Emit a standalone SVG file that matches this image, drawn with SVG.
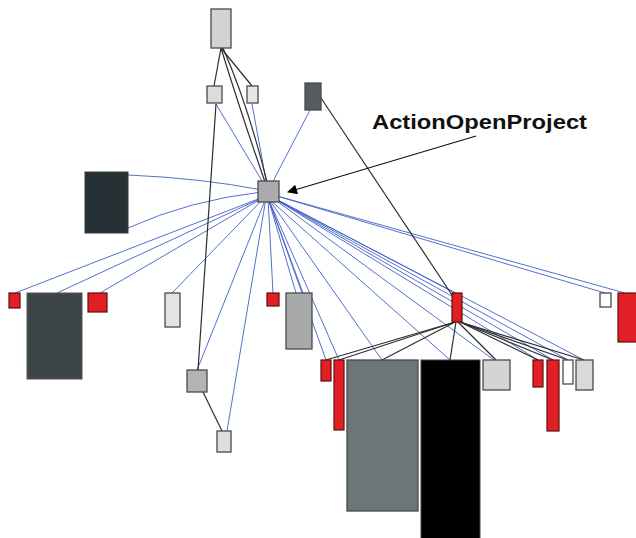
<svg xmlns="http://www.w3.org/2000/svg" width="636" height="538" viewBox="0 0 636 538">
<style>
.n{stroke:#4a4a4a;stroke-width:1.3}
.r{fill:#e41e25;stroke:#5a1010;stroke-width:1.2}
.b{fill:none;stroke:#3f62c8;stroke-width:1;stroke-opacity:0.9}
.k{fill:none;stroke:#2e2e2e;stroke-width:1.2}
.lbl{font-family:"Liberation Sans",Arial,sans-serif;font-weight:bold;font-size:20px;fill:#111}
</style>
<defs>
<marker id="ah" viewBox="0 0 10 10" refX="9" refY="5" markerWidth="14" markerHeight="10" markerUnits="userSpaceOnUse" orient="auto">
<path d="M0,0 L10,5 L0,10 Z" fill="#000"/>
</marker>
</defs>
<rect width="636" height="538" fill="#fff"/>
<g id="connectors">
<path class="b" d="M268,191 L216,104"/>
<path class="b" d="M268,191 L252,104"/>
<path class="b" d="M268,191 L310,110"/>
<path class="b" d="M262,190 Q200,178 128,175"/>
<path class="b" d="M262,192 Q190,200 128,228"/>
<path class="b" d="M266,196 L15,293"/>
<path class="b" d="M266,196 L57,293"/>
<path class="b" d="M266,196 L100,293"/>
<path class="b" d="M266,196 L172,293"/>
<path class="b" d="M266,198 L197,370"/>
<path class="b" d="M266,198 L227,431"/>
<path class="b" d="M268,198 L273,293"/>
<path class="b" d="M268,198 L296,293"/>
<path class="b" d="M268,198 L303,293"/>
<path class="b" d="M270,196 L455,293"/>
<path class="b" d="M270,194 L605,293"/>
<path class="b" d="M270,194 L625,293"/>
<path class="b" d="M268,198 L326,360"/>
<path class="b" d="M268,198 L339,360"/>
<path class="b" d="M268,198 L382,360"/>
<path class="b" d="M268,198 L450,360"/>
<path class="b" d="M270,196 L494,360"/>
<path class="b" d="M270,196 L538,360"/>
<path class="b" d="M270,196 L553,360"/>
<path class="b" d="M270,196 L568,360"/>
<path class="b" d="M270,196 L584,360"/>
<path class="k" d="M221,48 L214,86"/>
<path class="k" d="M221,48 L252,86"/>
<path class="k" d="M221,48 Q240,110 265,182"/>
<path class="k" d="M223,48 Q248,105 267,182"/>
<path class="k" d="M216,104 L198,370"/>
<path class="k" d="M321,98 L452,295"/>
<path class="k" d="M203,392 L222,431"/>
<path class="k" d="M455,322 L326,360"/>
<path class="k" d="M455,322 L339,360"/>
<path class="k" d="M455,322 L382,360"/>
<path class="k" d="M456,322 L450,360"/>
<path class="k" d="M458,322 L496,360"/>
<path class="k" d="M460,322 L538,360"/>
<path class="k" d="M460,322 L553,360"/>
<path class="k" d="M460,322 L568,360"/>
<path class="k" d="M460,322 L584,360"/>
</g>
<g id="n-top"><rect class="n" x="211" y="9" width="20" height="39" fill="#d3d3d3"/></g>
<g id="n-s1"><rect class="n" x="207" y="86" width="15" height="17" fill="#dcdcdc"/></g>
<g id="n-s2"><rect class="n" x="247" y="86" width="11" height="17" fill="#e6e6e6"/></g>
<g id="n-dk"><rect class="n" x="305" y="83" width="16" height="27" fill="#535d60"/></g>
<g id="n-hub"><rect class="n" x="258" y="181" width="21" height="21" fill="#a9abad" stroke-width="1.6"/></g>
<g id="n-dtl"><rect x="85" y="172" width="43" height="61" fill="#263135" stroke="#3a3a3a" stroke-width="1"/></g>
<g id="n-r1"><rect class="r" x="9" y="293" width="11" height="15"/></g>
<g id="n-bd"><rect x="27" y="293" width="55" height="86" fill="#3b4447" stroke="#555" stroke-width="1"/></g>
<g id="n-r2"><rect class="r" x="88" y="293" width="19" height="19"/></g>
<g id="n-lt"><rect class="n" x="165" y="293" width="15" height="34" fill="#e3e3e3"/></g>
<g id="n-r3"><rect class="r" x="267" y="293" width="12" height="13"/></g>
<g id="n-g1"><rect class="n" x="286" y="293" width="26" height="56" fill="#a7a9ab"/></g>
<g id="n-rh"><rect class="r" x="452" y="293" width="10" height="29"/></g>
<g id="n-w1"><rect class="n" x="600" y="293" width="11" height="14" fill="#fff"/></g>
<g id="n-r4"><rect class="r" x="618" y="293" width="20" height="49"/></g>
<g id="n-g2"><rect class="n" x="187" y="370" width="20" height="22" fill="#b1b3b5"/></g>
<g id="n-l2"><rect class="n" x="217" y="431" width="14" height="21" fill="#dedede"/></g>
<g id="n-r5"><rect class="r" x="321" y="360" width="10" height="21"/></g>
<g id="n-r6"><rect class="r" x="334" y="360" width="10" height="70"/></g>
<g id="n-bg"><rect class="n" x="347" y="360" width="71" height="151" fill="#6c7577"/></g>
<g id="n-bk"><rect x="421" y="360" width="59" height="182" fill="#000" stroke="#444" stroke-width="1"/></g>
<g id="n-l3"><rect class="n" x="483" y="360" width="27" height="30" fill="#d4d4d4"/></g>
<g id="n-r7"><rect class="r" x="533" y="360" width="10" height="27"/></g>
<g id="n-r8"><rect class="r" x="547" y="360" width="12" height="71"/></g>
<g id="n-w2"><rect class="n" x="563" y="360" width="10" height="24" fill="#fff" stroke="#222"/></g>
<g id="n-l4"><rect class="n" x="576" y="360" width="17" height="30" fill="#d9d9d9"/></g>
<g id="label">
<text class="lbl" x="372" y="129" textLength="215" lengthAdjust="spacingAndGlyphs">ActionOpenProject</text>
<path d="M476,136 L288,192" stroke="#111" stroke-width="1.2" fill="none" marker-end="url(#ah)"/>
</g>
</svg>
